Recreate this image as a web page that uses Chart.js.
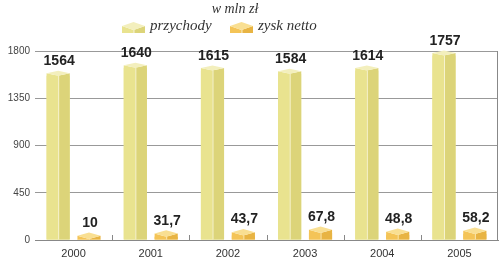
<!DOCTYPE html>
<html><head><meta charset="utf-8">
<script src="https://cdn.jsdelivr.net/npm/chart.js@4"></script>
<style>html,body{margin:0;padding:0;background:#fff}#wrap{width:500px;height:271px}</style>
</head><body><div id="wrap"><canvas id="c" width="500" height="271"></canvas></div>
<script>
const years = ['2000','2001','2002','2003','2004','2005'];
const revenue = [1564, 1640, 1615, 1584, 1614, 1757];
const profit = [10, 31.7, 43.7, 67.8, 48.8, 58.2];
const yTicks = [0, 450, 900, 1350, 1800];
const unitTitle = 'w mln zł';

const revCols = {left:'#e9e38f', right:'#dcd479', top:'#f3efbd', edge:'#f7f4d2'};
const proCols = {left:'#f4c457', right:'#e8b443', top:'#f9df92', edge:'#fbe9b4'};
const styles = [{c:revCols, d:2.5}, {c:proCols, d:3.2}];

function fmt(v){ return String(v).replace('.', ','); }

function drawBox(ctx, x0, x1, y, base, d, c){
  const xm = (x0+x1)/2;
  ctx.fillStyle = c.left;
  ctx.beginPath(); ctx.moveTo(x0,y-d); ctx.lineTo(xm,y); ctx.lineTo(xm,base); ctx.lineTo(x0,base); ctx.closePath(); ctx.fill();
  ctx.fillStyle = c.right;
  ctx.beginPath(); ctx.moveTo(xm,y); ctx.lineTo(x1,y-d); ctx.lineTo(x1,base); ctx.lineTo(xm,base); ctx.closePath(); ctx.fill();
  ctx.fillStyle = c.top;
  ctx.beginPath(); ctx.moveTo(x0,y-d); ctx.lineTo(xm,y-2*d); ctx.lineTo(x1,y-d); ctx.lineTo(xm,y); ctx.closePath(); ctx.fill();
  ctx.strokeStyle = c.edge; ctx.lineWidth = 1;
  ctx.beginPath(); ctx.moveTo(xm+0.5,y); ctx.lineTo(xm+0.5,base); ctx.stroke();
}

const boxPlugin = {
  id: 'box3d',
  afterDatasetsDraw(chart){
    const ctx = chart.ctx;
    const area = chart.chartArea;
    ctx.save();
    const xs = chart.scales.x;
    ctx.strokeStyle = '#888'; ctx.lineWidth = 1;
    for (let i = 1; i < years.length; i++){
      const px = Math.round((xs.getPixelForValue(i-1) + xs.getPixelForValue(i))/2) + 0.5;
      ctx.beginPath(); ctx.moveTo(px, area.bottom); ctx.lineTo(px, area.bottom-5); ctx.stroke();
    }
    chart.data.datasets.forEach((ds, di) => {
      const meta = chart.getDatasetMeta(di);
      const st = styles[di];
      meta.data.forEach((el, i) => {
        const p = el.getProps(['x','y','base','width'], true);
        const x0 = p.x - p.width/2, x1 = p.x + p.width/2;
        drawBox(ctx, x0, x1, p.y, p.base, st.d, st.c);
        ctx.fillStyle = '#222';
        ctx.font = 'bold 14px "Liberation Sans", Arial, sans-serif';
        ctx.textAlign = 'center'; ctx.textBaseline = 'bottom';
        ctx.fillText(fmt(ds.data[i]), p.x + 1, p.y - 2*st.d - 2.5);
      });
    });
    ctx.strokeStyle = '#888';
    ctx.beginPath(); ctx.moveTo(Math.round(area.right)-0.5, area.top); ctx.lineTo(Math.round(area.right)-0.5, area.bottom); ctx.stroke();
    ctx.restore();
  },
  afterDraw(chart){
    const ctx = chart.ctx;
    ctx.save();
    ctx.fillStyle = '#333';
    ctx.textBaseline = 'alphabetic';
    ctx.textAlign = 'center';
    ctx.font = 'italic 14px "Liberation Serif", "DejaVu Serif", serif';
    ctx.fillText(unitTitle, 235, 13);
    ctx.font = 'italic 15px "Liberation Serif", "DejaVu Serif", serif';
    ctx.textAlign = 'left';
    const items = [{x:122, tx:150}, {x:230, tx:258}];
    chart.data.datasets.forEach((ds, di) => {
      const it = items[di];
      drawBox(ctx, it.x, it.x+23, 30, 33, 4, styles[di].c);
      ctx.fillStyle = '#333';
      ctx.fillText(ds.label, it.tx, 30);
    });
    ctx.restore();
  }
};

new Chart(document.getElementById('c'), {
  type: 'bar',
  data: {
    labels: years,
    datasets: [
      {label:'przychody', data: revenue, backgroundColor: revCols.left, borderWidth:0},
      {label:'zysk netto', data: profit, backgroundColor: proCols.left, borderWidth:0}
    ]
  },
  options: {
    responsive: false,
    animation: false,
    events: [],
    layout: {padding: {top: 51, right: 2, left: 0, bottom: 0}},
    datasets: {bar: {categoryPercentage: 0.8, barPercentage: 0.75}},
    plugins: {legend: {display: false}, title: {display: false}, tooltip: {enabled: false}},
    scales: {
      x: {
        grid: {display: false, drawTicks: false},
        border: {display: true, color: '#888'},
        ticks: {color: '#333', font: {family: '"Liberation Sans", Arial, sans-serif', size: 11}, padding: 7},
        afterFit(s){ s.height = 31; }
      },
      y: {
        min: 0, max: 1800,
        afterBuildTicks(s){ s.ticks = yTicks.map(v => ({value: v})); },
        grid: {color: '#999', drawTicks: false},
        border: {display: false},
        ticks: {color: '#444', font: {family: '"Liberation Sans", Arial, sans-serif', size: 10}, padding: 5,
          callback: (v) => String(v)},
        afterFit(s){ s.width = 35; }
      }
    }
  },
  plugins: [boxPlugin]
});
</script></body></html>
